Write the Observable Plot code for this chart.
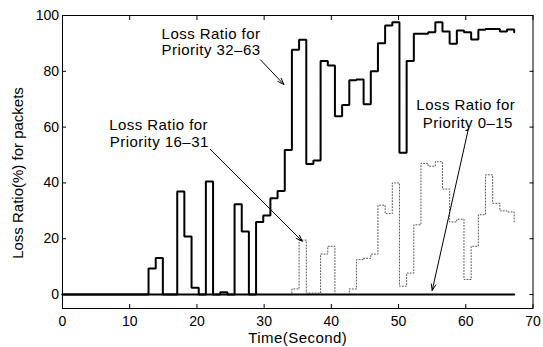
<!DOCTYPE html>
<html><head><meta charset="utf-8">
<script src="https://cdn.jsdelivr.net/npm/d3@7"></script>
<script src="https://cdn.jsdelivr.net/npm/@observablehq/plot@0.6"></script>
<style>
body{margin:0;background:#fff;}
#chart svg{display:block;}
</style></head><body><div id="chart"></div>
<script>
// step start times (seconds)
const times = [0,1.07,2.13,3.2,4.27,5.33,6.4,7.47,8.53,9.6,10.67,11.73,12.8,13.87,14.93,16,17.07,18.13,19.2,20.27,21.33,22.4,23.47,24.53,25.6,26.67,27.73,28.8,29.87,30.93,32,33.07,34.13,35.2,36.27,37.33,38.4,39.47,40.53,41.6,42.67,43.73,44.8,45.87,46.93,48,49.07,50.13,51.2,52.27,53.33,54.4,55.47,56.53,57.6,58.67,59.73,60.8,61.87,62.93,64,65.07,66.13,67.2];
// loss ratio (%) per priority class
const p32_63 = [0,0,0,0,0,0,0,0,0,0,0,0,9.3,13.1,0,0,36.9,20.8,2.4,0,40.5,0,0.8,0,32.4,22.6,0,26,28.3,34.5,37.1,51.8,87.7,91.3,46.8,48,83.7,82.1,63.9,67.9,76.8,77.1,68.2,80,90.1,96.4,97.6,50.8,83.7,93.5,93.5,94,97.6,94.3,89.9,94.6,94,91.4,94.9,95.2,95.2,94.3,95,94];
const p16_31 = [0,0,0,0,0,0,0,0,0,0,0,0,0,0,0,0,0,0,0,0,0,0,0,0,0,0,0,0,0,0,0,0,2,19.5,0.5,0.5,14.5,17.3,0,0,2,12.5,13,14.5,32,29,40,3,7.7,25,47,46,47.6,37.8,26,27,5.4,17.3,28.6,42.9,32.7,30,29.6,26];
const p0_15 = [0,0,0,0,0,0,0,0,0,0,0,0,0,0,0,0,0,0,0,0,0,0,0,0,0,0,0,0,0,0,0,0,0,0,0,0,0,0,0,0,0,0,0,0,0,0,0,0,0,0,0,0,0,0,0,0,0,0,0,0,0,0,0,0];
const xTicks = [0,10,20,30,40,50,60,70];
const yTicks = [0,20,40,60,80,100];
const noteText = ["Loss Ratio for","Priority 32\u201363","Loss Ratio for","Priority 16\u201331","Loss Ratio for","Priority 0\u201315"];
const noteX = [22.1,22.1,14.3,14.4,60.0,60.3];
const noteY = [93.4,87.4,60.6,54.5,67.7,61.4];
const arrowX1 = [29.46,22.0,60.4];
const arrowY1 = [84.1,52.0,59.5];
const arrowX2 = [32.93,35.67,55.0];
const arrowY2 = [75.3,19.1,1.45];

const rows = vals => times.map((t, i) => ({t, v: vals[i]}));
const notes = noteText.map((text, i) => ({text, x: noteX[i], y: noteY[i]}));
const arrows = arrowX1.map((x1, i) => ({x1, y1: arrowY1[i], x2: arrowX2[i], y2: arrowY2[i]}));
const font = "'Liberation Sans', Arial, Helvetica, sans-serif";

const chart = Plot.plot({
  width: 543, height: 347,
  marginLeft: 62, marginRight: 10.5, marginTop: 15, marginBottom: 39,
  style: {fontFamily: font, fontSize: "15px", background: "#fff", color: "#000", overflow: "visible"},
  x: {domain: [0, 70]},
  y: {domain: [-5, 100]},
  marks: [
    Plot.line(rows(p16_31), {x: "t", y: "v", curve: "step-after", stroke: "#555", strokeWidth: 1, strokeDasharray: "1,2"}),
    Plot.line(rows(p0_15), {x: "t", y: "v", curve: "step-after", stroke: "#000", strokeWidth: 2}),
    Plot.line(rows(p32_63), {x: "t", y: "v", curve: "step-after", stroke: "#000", strokeWidth: 2, strokeLinejoin: "miter"}),
    Plot.frame({stroke: "#000", strokeWidth: 1}),
    Plot.axisX(xTicks, {anchor: "bottom", tickSize: -4, tickPadding: 12, label: null, fontSize: 14}),
    Plot.axisX(xTicks, {anchor: "top", tickSize: -4, tickFormat: () => "", label: null}),
    Plot.axisY(yTicks, {anchor: "left", tickSize: -4, tickPadding: 7.5, label: null, fontSize: 14}),
    Plot.axisY(yTicks, {anchor: "right", tickSize: -4, tickFormat: () => "", label: null}),
    Plot.text(["Time(Second)"], {frameAnchor: "bottom", lineAnchor: "top", dy: 23.5, fontSize: 15}),
    Plot.text(["Loss Ratio(%) for packets"], {frameAnchor: "left", rotate: -90, dx: -44, dy: 11, lineAnchor: "middle", textAnchor: "middle", fontSize: 15}),
    Plot.text(notes, {x: "x", y: "y", text: "text", textAnchor: "middle", lineAnchor: "middle", fontSize: 15}),
    Plot.arrow(arrows, {x1: "x1", y1: "y1", x2: "x2", y2: "y2", stroke: "#000", strokeWidth: 1, headLength: 10, headAngle: 40})
  ]
});
// reference text is set slightly wider: widen horizontal labels a little
d3.select(chart).selectAll("text")
  .filter(function() { return !/rotate/.test(this.getAttribute("transform") || "") && this.textContent.length > 4; })
  .attr("letter-spacing", "0.45px");
document.getElementById("chart").appendChild(chart);
</script></body></html>
